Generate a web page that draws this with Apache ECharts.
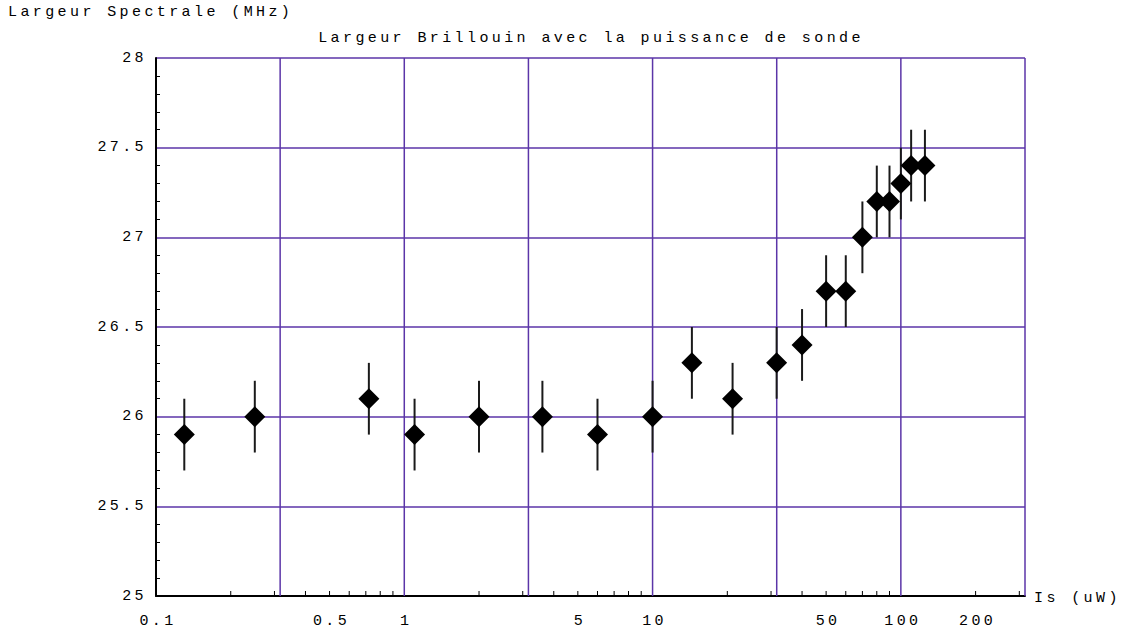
<!DOCTYPE html>
<html>
<head>
<meta charset="utf-8">
<script src="https://cdn.jsdelivr.net/npm/echarts@6/dist/echarts.min.js"></script>
<style>
  html, body { margin: 0; padding: 0; background: #ffffff; }
  #chart { width: 1143px; height: 637px; }
  #chart svg text { letter-spacing: 3.4px; }
</style>
</head>
<body>
<div id="chart"></div>
<script>
// ---- data ----
const powerUW   = [0.13, 0.25, 0.72, 1.1, 2, 3.6, 6, 10, 14.4, 21, 31.6, 40, 50, 60, 70, 80, 90, 100, 110, 125];
const widthMHz  = [25.9, 26.0, 26.1, 25.9, 26.0, 26.0, 25.9, 26.0, 26.3, 26.1, 26.3, 26.4, 26.7, 26.7, 27.0, 27.2, 27.2, 27.3, 27.4, 27.4];
const errorMHz  = [0.2, 0.2, 0.2, 0.2, 0.2, 0.2, 0.2, 0.2, 0.2, 0.2, 0.2, 0.2, 0.2, 0.2, 0.2, 0.2, 0.2, 0.2, 0.2, 0.2];
const xGridLines = [0.316227766, 1, 3.16227766, 10, 31.6227766, 100, 316.227766];
const xTickLabels = [0.1, 0.5, 1, 5, 10, 50, 100, 200];
const xMinorTicks = [0.2, 0.3, 0.4, 0.5, 0.6, 0.7, 0.8, 0.9, 2, 3, 4, 5, 6, 7, 8, 9, 20, 30, 40, 50, 60, 70, 80, 90, 200, 300];
const xMin = 0.1, xMax = 316.227766;
const yMin = 25, yMax = 28, yStep = 0.5;

const titleText = 'Largeur Brillouin avec la puissance de sonde';
const yName = 'Largeur Spectrale (MHz)';
const xName = 'Is (uW)';

const FONT = "'Liberation Mono', 'DejaVu Sans Mono', monospace";
const FS = 15;
const GRID_COLOR = '#5b35a8';

const chart = echarts.init(document.getElementById('chart'), null, { renderer: 'svg' });

const points = powerUW.map((x, i) => [x, widthMHz[i]]);
const errBars = powerUW.map((x, i) => [x, widthMHz[i] - errorMHz[i], widthMHz[i] + errorMHz[i]]);

chart.setOption({
  animation: false,
  backgroundColor: '#ffffff',
  grid: { left: 156, top: 58, width: 869, height: 538, containLabel: false },
  xAxis: {
    type: 'log', logBase: 10, min: xMin, max: xMax,
    axisLine: { show: true, lineStyle: { color: '#000', width: 2 } },
    axisTick: { show: false },
    axisLabel: { show: false },
    splitLine: { show: false },
    minorTick: { show: false }
  },
  yAxis: {
    type: 'value', min: yMin, max: yMax, interval: yStep,
    axisLine: { show: true, onZero: false, lineStyle: { color: '#000', width: 2 } },
    axisTick: { show: false, inside: true },
    minorTick: { show: true, splitNumber: 5, length: 4, lineStyle: { color: '#000', width: 1 } },
    axisLabel: { margin: 9, color: '#000', fontFamily: FONT, fontSize: FS },
    splitLine: { show: true, lineStyle: { color: GRID_COLOR, width: 1.5 } }
  },
  graphic: [
    { type: 'text', x: 8, y: 12, style: { text: yName, font: FS + 'px ' + FONT, fill: '#000', textAlign: 'left', textVerticalAlign: 'middle' } },
    { type: 'text', x: 591, y: 38, style: { text: titleText, font: FS + 'px ' + FONT, fill: '#000', textAlign: 'center', textVerticalAlign: 'middle' } },
    { type: 'text', x: 1034, y: 598, style: { text: xName, font: FS + 'px ' + FONT, fill: '#000', textAlign: 'left', textVerticalAlign: 'middle' } }
  ],
  series: [
    { // vertical grid lines
      type: 'custom', silent: true, z: 1,
      data: xGridLines.map(v => [v]),
      renderItem: function (params, api) {
        const a = api.coord([api.value(0), yMin]);
        const b = api.coord([api.value(0), yMax]);
        return { type: 'line', shape: { x1: a[0], y1: a[1], x2: b[0], y2: b[1] },
                 style: { stroke: GRID_COLOR, lineWidth: 1.5 } };
      }
    },
    { // x minor ticks (inward)
      type: 'custom', silent: true, z: 3,
      data: xMinorTicks.map(v => [v]),
      renderItem: function (params, api) {
        const a = api.coord([api.value(0), yMin]);
        return { type: 'line', shape: { x1: a[0], y1: a[1], x2: a[0], y2: a[1] - 5 },
                 style: { stroke: '#000', lineWidth: 1 } };
      }
    },
    { // x tick labels
      type: 'custom', silent: true, z: 3, clip: false,
      data: xTickLabels.map(v => [v]),
      renderItem: function (params, api) {
        const a = api.coord([api.value(0), yMin]);
        return { type: 'text', x: a[0] + 2, y: a[1] + 25,
                 style: { text: String(xTickLabels[params.dataIndex]), font: FS + 'px ' + FONT, fill: '#000',
                          textAlign: 'center', textVerticalAlign: 'middle' } };
      }
    },
    { // error bars
      type: 'custom', silent: true, z: 4,
      data: errBars,
      renderItem: function (params, api) {
        const a = api.coord([api.value(0), api.value(1)]);
        const b = api.coord([api.value(0), api.value(2)]);
        return { type: 'line', shape: { x1: a[0], y1: a[1], x2: b[0], y2: b[1] },
                 style: { stroke: '#1a1a1a', lineWidth: 2 } };
      }
    },
    {
      type: 'scatter', z: 5,
      symbol: 'diamond', symbolSize: [21, 21],
      itemStyle: { color: '#000', opacity: 1 },
      data: points
    }
  ]
});
</script>
</body>
</html>
